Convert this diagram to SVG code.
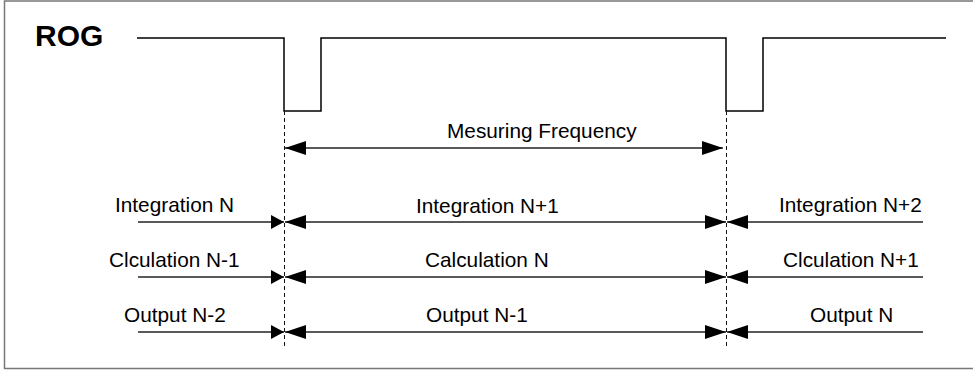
<svg xmlns="http://www.w3.org/2000/svg" width="973" height="370" viewBox="0 0 973 370">
  <style>
    .frame { fill: none; stroke: #777; stroke-width: 1.5; }
    .wave { fill: none; stroke: #000; stroke-width: 1.5; }
    .mark { fill: none; stroke: #111; stroke-width: 1; stroke-dasharray: 4 3; }
    .span { fill: none; stroke: #222; stroke-width: 1.3; }
    .lbl { font-family: "Liberation Sans", Arial, sans-serif; font-size: 20.8px; fill: #000; }
    .title { font-family: "Liberation Sans", Arial, sans-serif; font-size: 30px; font-weight: bold; fill: #000; }
  </style>
  <defs>
    <marker id="head" markerUnits="userSpaceOnUse" markerWidth="21" markerHeight="14" refX="21" refY="7" orient="auto-start-reverse">
      <path d="M0,0 L21,7 L0,14 z" fill="#000"/>
    </marker>
    <marker id="head-small" markerUnits="userSpaceOnUse" markerWidth="13" markerHeight="14" refX="13" refY="7" orient="auto-start-reverse">
      <path d="M0,0 L13,7 L0,14 z" fill="#000"/>
    </marker>
  </defs>

  <rect width="973" height="370" fill="#fff"/>
  <!-- outer frame (open on the right) -->
  <path class="frame" d="M973,1 H4.5 V368.5 H973"/>

  <!-- ROG signal -->
  <g id="rog">
    <text class="title" x="35" y="46">ROG</text>
    <polyline class="wave" points="137,38 284,38 284,111 321,111 321,38 726,38 726,111 763,111 763,38 946,38"/>
  </g>

  <!-- labels -->
  <g id="measuring">
    <text class="lbl" x="447" y="138">Mesuring Frequency</text>
  </g>
  <g id="integration">
    <text class="lbl" x="115" y="212">Integration N</text>
    <text class="lbl" x="416" y="213">Integration N+1</text>
    <text class="lbl" x="779" y="212">Integration N+2</text>
  </g>
  <g id="calculation">
    <text class="lbl" x="109" y="267">Clculation N-1</text>
    <text class="lbl" x="425" y="267">Calculation N</text>
    <text class="lbl" x="783" y="267">Clculation N+1</text>
  </g>
  <g id="output">
    <text class="lbl" x="124" y="322">Output N-2</text>
    <text class="lbl" x="426" y="322">Output N-1</text>
    <text class="lbl" x="810" y="322">Output N</text>
  </g>

  <!-- connectors -->
  <g id="connectors">
    <line class="mark" x1="284.5" y1="111" x2="284.5" y2="348"/>
    <line class="mark" x1="726.5" y1="111" x2="726.5" y2="348"/>

    <line class="span" x1="285" y1="148" x2="723" y2="148" marker-start="url(#head)" marker-end="url(#head)"/>

    <line class="span" x1="138" y1="222" x2="284" y2="222" marker-end="url(#head-small)"/>
    <line class="span" x1="285" y1="222" x2="726" y2="222" marker-start="url(#head)" marker-end="url(#head)"/>
    <line class="span" x1="923" y1="222" x2="727" y2="222" marker-end="url(#head)"/>

    <line class="span" x1="138" y1="277" x2="284" y2="277" marker-end="url(#head-small)"/>
    <line class="span" x1="285" y1="277" x2="726" y2="277" marker-start="url(#head)" marker-end="url(#head)"/>
    <line class="span" x1="923" y1="277" x2="727" y2="277" marker-end="url(#head)"/>

    <line class="span" x1="138" y1="332" x2="284" y2="332" marker-end="url(#head-small)"/>
    <line class="span" x1="285" y1="332" x2="726" y2="332" marker-start="url(#head)" marker-end="url(#head)"/>
    <line class="span" x1="923" y1="332" x2="727" y2="332" marker-end="url(#head)"/>
  </g>
</svg>
